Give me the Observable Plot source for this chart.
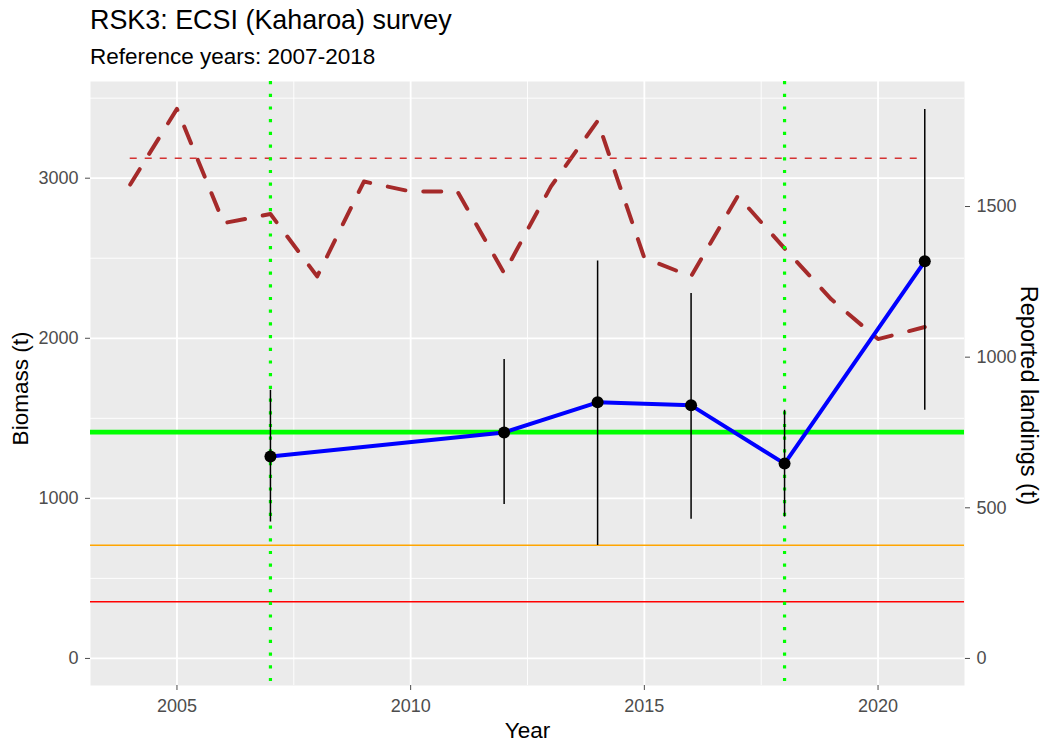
<!DOCTYPE html>
<html>
<head>
<meta charset="utf-8">
<script src="https://cdn.jsdelivr.net/npm/d3@7"></script>
<script src="https://cdn.jsdelivr.net/npm/@observablehq/plot@0.6"></script>
<style>
  html, body { margin: 0; padding: 0; background: #ffffff; }
  body { font-family: "Liberation Sans", Arial, sans-serif; }
  #wrap { position: relative; width: 1041px; height: 742px; overflow: hidden; }
  #title { position: absolute; left: 90px; top: 7px; font-size: 26.9px; line-height: 1; color: #000; white-space: nowrap; }
  #subtitle { position: absolute; left: 90px; top: 46px; font-size: 22.5px; line-height: 1; color: #000; white-space: nowrap; }
  #chart { position: absolute; left: 0; top: 75px; }
  #chart svg { overflow: visible; }
</style>
</head>
<body>
<div id="wrap">
  <div id="title">RSK3: ECSI (Kaharoa) survey</div>
  <div id="subtitle">Reference years: 2007-2018</div>
  <div id="chart"></div>
</div>
<script>
// ---- Data ----
const landingYears = [2004, 2005, 2006, 2007, 2008, 2009, 2010, 2011, 2012, 2013, 2014, 2015, 2016, 2017, 2018, 2019, 2020, 2021];
const landings     = [1573, 1824, 1445, 1475, 1268, 1583, 1550, 1550, 1279, 1566, 1784, 1329, 1268, 1535, 1361, 1192, 1060, 1100];

const surveyYears  = [2007, 2012, 2014, 2016, 2018, 2021];
const biomass      = [1262, 1412, 1600, 1581, 1217, 2481];
const biomassLo    = [852,  962,  706,  869,  883,  1550];
const biomassHi    = [1675, 1867, 2483, 2279, 1550, 3429];

const refYears       = [2007, 2018];          // reference period (dotted green)
const meanBiomass    = 1414;                  // green line
const softLimit      = 707;                   // orange line
const hardLimit      = 354;                   // red line
const refLandings    = 1660;                  // thin dashed red line (landings axis)
const refLandingSpan = [2004, 2021];

const landingsScale = 1.882;                  // secondary-axis factor (biomass units per landings unit)

const xTicks       = [2005, 2010, 2015, 2020];
const xMinorTicks  = [2007.5, 2012.5, 2017.5];
const yTicks       = [0, 1000, 2000, 3000];
const yMinorTicks  = [500, 1500, 2500, 3500];
const y2Ticks      = [0, 500, 1000, 1500];

// ---- Tables built from the arrays ----
const landTable = landingYears.map((year, i) => ({year, value: landings[i] * landingsScale}));
const bioTable = surveyYears.map((year, i) => ({year, b: biomass[i], lo: biomassLo[i], hi: biomassHi[i]}));
const refLandTable = [{y: refLandings * landingsScale, x1: refLandingSpan[0], x2: refLandingSpan[1]}];

const tickColor = "#4D4D4D";

const chart = Plot.plot({
  width: 1041,
  height: 667,
  marginTop: 6,
  marginBottom: 57,
  marginLeft: 90,
  marginRight: 77,
  style: {fontFamily: "'Liberation Sans', Arial, sans-serif", background: "transparent", overflow: "visible"},
  x: {domain: [2003.15, 2021.85]},
  y: {domain: [-169, 3604]},
  marks: [
    Plot.frame({fill: "#EBEBEB", stroke: null}),
    Plot.ruleX(xMinorTicks, {x: d => d, stroke: "#ffffff", strokeWidth: 0.9}),
    Plot.ruleY(yMinorTicks, {y: d => d, stroke: "#ffffff", strokeWidth: 0.9}),
    Plot.ruleX(xTicks, {x: d => d, stroke: "#ffffff", strokeWidth: 1.8}),
    Plot.ruleY(yTicks, {y: d => d, stroke: "#ffffff", strokeWidth: 1.8}),

    // reported landings (secondary axis)
    Plot.line(landTable, {x: "year", y: "value", stroke: "#A52A2A", strokeWidth: 4, strokeDasharray: "18,18"}),
    Plot.ruleY(refLandTable, {y: "y", x1: "x1", x2: "x2", stroke: "#D43333", strokeWidth: 1.6, strokeDasharray: "7,8"}),

    // reference lines
    Plot.ruleY([meanBiomass], {y: d => d, stroke: "#00FF00", strokeWidth: 4.7}),
    Plot.ruleY([softLimit], {y: d => d, stroke: "#FFA500", strokeWidth: 1.4}),
    Plot.ruleY([hardLimit], {y: d => d, stroke: "#FF0000", strokeWidth: 1.4}),
    Plot.ruleX(refYears, {x: d => d, stroke: "#00FF00", strokeWidth: 3.2, strokeDasharray: "3.2,9.5"}),

    // survey biomass
    Plot.ruleX(bioTable, {x: "year", y1: "lo", y2: "hi", stroke: "#000000", strokeWidth: 1.5}),
    Plot.line(bioTable, {x: "year", y: "b", stroke: "#0000FF", strokeWidth: 4}),
    Plot.dot(bioTable, {x: "year", y: "b", r: 6, fill: "#000000", stroke: null}),

    // axes
    Plot.axisX(xTicks, {anchor: "bottom", tickSize: 5, tickPadding: 9, fontSize: 18, color: tickColor, label: null, tickFormat: d => String(d)}),
    Plot.axisY(yTicks, {anchor: "left", tickSize: 5, tickPadding: 7, fontSize: 18, color: tickColor, label: null, tickFormat: d => String(d)}),
    Plot.axisY(y2Ticks.map(v => v * landingsScale), {anchor: "right", tickSize: 5, tickPadding: 7, fontSize: 18, color: tickColor, label: null,
      tickFormat: v => String(Math.round(v / landingsScale))}),

    // axis titles
    Plot.text(["Year"], {frameAnchor: "bottom", textAnchor: "middle", dy: 52, fontSize: 22.5, fill: "#000"}),
    Plot.text(["Biomass (t)"], {frameAnchor: "left", textAnchor: "middle", dx: -70, dy: 5, rotate: -90, fontSize: 22.5, fill: "#000"}),
    Plot.text(["Reported landings (t)"], {frameAnchor: "right", textAnchor: "middle", dx: 64, dy: 12, rotate: 90, fontSize: 23.5, fill: "#000"})
  ]
});

document.getElementById("chart").appendChild(chart);
</script>
</body>
</html>
